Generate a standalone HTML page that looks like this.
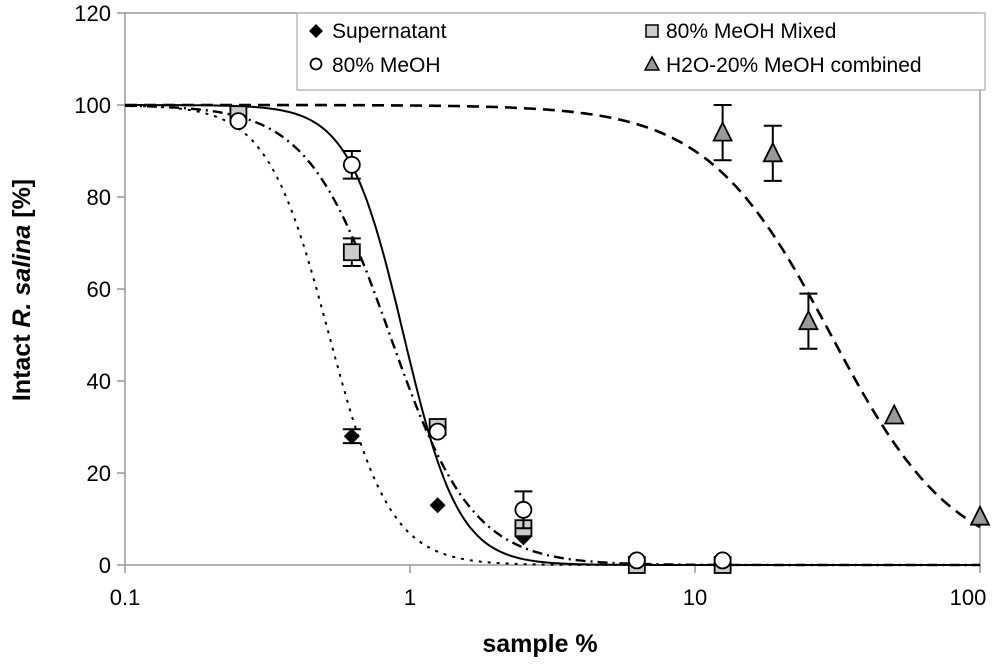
<!DOCTYPE html>
<html><head><meta charset="utf-8"><style>
body{margin:0;background:#fff}
svg{font-family:"Liberation Sans",Arial,sans-serif}
</style></head><body>
<svg id="chart" width="1000" height="664" viewBox="0 0 1000 664" xmlns="http://www.w3.org/2000/svg">
<g id="axes"></g>
<g id="curves"></g>
<g id="points"></g>
<g>
<rect x="297" y="13" width="688" height="77" fill="#fff" stroke="#bbb" stroke-width="1.5"/>
<g><path d="M316 24 L323 31 L316 38 L309 31Z" fill="#000"/><text x="332" y="38" font-size="21">Supernatant</text></g>
<g><circle cx="316" cy="64" r="5.5" fill="#fff" stroke="#000" stroke-width="1.8"/><text x="332" y="72" font-size="21">80% MeOH</text></g>
<g><rect x="646" y="25" width="12" height="12" fill="#ccc" stroke="#000" stroke-width="1.5"/><text x="666" y="38" font-size="21">80% MeOH Mixed</text></g>
<g><path d="M652 57 L659 70 L645 70Z" fill="#999" stroke="#000" stroke-width="1.5"/><text x="666" y="72" font-size="21">H2O-20% MeOH combined</text></g>
</g>
<text x="540" y="652" font-size="25" font-weight="bold" text-anchor="middle">sample %</text>
<text transform="translate(30,290) rotate(-90)" font-size="25" font-weight="bold" text-anchor="middle">Intact <tspan font-style="italic">R. salina</tspan> [%]</text>
</svg>
<script>
const xTicks=[0.1,1,10,100];
const xTickLabels=["0.1","1","10","100"];
const yTicks=[0,20,40,60,80,100,120];
const superX=[0.625,1.25,2.5,6.25,12.5];
const superY=[28,13,6,0,0];
const superErr=[1.5,1,0.5,0.3,0.3];
const meohX=[0.25,0.625,1.25,2.5,6.25,12.5];
const meohY=[96.5,87,29,12,1,1];
const meohErr=[1,3,1,4,0.5,0.5];
const mixedX=[0.25,0.625,1.25,2.5,6.25,12.5];
const mixedY=[98,68,30,8,0,0];
const mixedErr=[1,3,1,1,0.3,0.3];
const h2oX=[12.5,18.75,25,50,100];
const h2oY=[94,89.5,53,32.5,10.5];
const h2oErr=[6,6,6,0.5,0.5];
const fitEC50=[0.52,0.95,0.85,30];
const fitHill=[4,4.5,3,2];
const fitDash=["3,6","","10,5,2,5","12,7"];
const fitWidth=[2,2,2.4,2.6];
const fitNames=["fit-supernatant","fit-80-meoh","fit-80-meoh-mixed","fit-h2o-20-meoh"];

const NS="http://www.w3.org/2000/svg";
const X0=125,DEC=285,Y0=565,YS=552/120;
const sx=v=>X0+DEC*Math.log10(v/0.1);
const sy=v=>Y0-v*YS;
function mk(tag,attrs,parent){const e=document.createElementNS(NS,tag);for(const k in attrs)e.setAttribute(k,attrs[k]);parent.appendChild(e);return e;}
const axes=document.getElementById('axes');
let el=mk('rect',{x:X0,y:sy(120),width:sx(100)-X0,height:sy(0)-sy(120),fill:'none',stroke:'#999','stroke-width':1.5},axes);


yTicks.forEach(t=>{
 let l=mk('line',{x1:X0-8,x2:X0,y1:sy(t),y2:sy(t),stroke:'#999','stroke-width':1.5},axes);
 
 
 let tx=mk('text',{x:X0-14,y:sy(t)+8,'font-size':22,'text-anchor':'end',fill:'#000'},axes);
 tx.textContent=t;
 
 
});
xTicks.forEach((t,i)=>{
 let l=mk('line',{x1:sx(t),x2:sx(t),y1:Y0,y2:Y0+8,stroke:'#999','stroke-width':1.5},axes);
 
 
 let tx=mk('text',{x:i==3?sx(t)-12:sx(t),y:Y0+40,'font-size':22,'text-anchor':'middle',fill:'#000'},axes);
 tx.textContent=xTickLabels[i];
 
 
});
const curves=document.getElementById('curves');
fitEC50.forEach((ec,i)=>{
 let d='';
 for(let k=0;k<=300;k++){const lx=-1+3*k/300;const v=Math.pow(10,lx);const y=100/(1+Math.pow(v/ec,fitHill[i]));d+=(k?'L':'M')+sx(v).toFixed(1)+' '+sy(y).toFixed(1);}
 let p=mk('path',{d:d,fill:'none',stroke:'#000','stroke-width':fitWidth[i]},curves);
 if(fitDash[i])p.setAttribute('stroke-dasharray',fitDash[i]);
 
 
});
const pts=document.getElementById('points');
function series(xs,ys,es,shape,name){
 xs.forEach((x,i)=>{
  const cx=sx(x),cy=sy(ys[i]);
  const g=mk('g',{},pts);
  
  
  if(es[i]>1){const t=sy(ys[i]+es[i]),b=sy(ys[i]-es[i]);
   mk('path',{d:`M${cx} ${t}V${b}M${cx-9} ${t}H${cx+9}M${cx-9} ${b}H${cx+9}`,stroke:'#000','stroke-width':2,fill:'none'},g);}
  if(shape=='d')mk('path',{d:`M${cx} ${cy-8}L${cx+8} ${cy}L${cx} ${cy+8}L${cx-8} ${cy}Z`,fill:'#000'},g);
  if(shape=='c')mk('circle',{cx:cx,cy:cy,r:8,fill:'#fff',stroke:'#000','stroke-width':1.8},g);
  if(shape=='s')mk('rect',{x:cx-8,y:cy-8,width:16,height:16,fill:'#ccc',stroke:'#000','stroke-width':1.8},g);
  if(shape=='t')mk('path',{d:`M${cx} ${cy-10}L${cx+9} ${cy+8}L${cx-9} ${cy+8}Z`,fill:'#999',stroke:'#000','stroke-width':1.8},g);
 });
}
series(superX,superY,superErr,'d','supernatant');
series(mixedX,mixedY,mixedErr,'s','meoh-mixed');
series(meohX,meohY,meohErr,'c','meoh');
series(h2oX,h2oY,h2oErr,'t','h2o-meoh');
</script>
</body></html>
